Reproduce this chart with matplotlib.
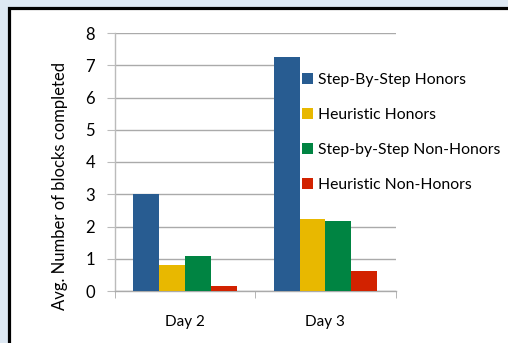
import matplotlib
matplotlib.use('Agg')
import matplotlib.pyplot as plt
from matplotlib.patches import Rectangle
import numpy as np

# data
days = ['Day 2', 'Day 3']
series = ['Step-By-Step Honors', 'Heuristic Honors',
          'Step-by-Step Non-Honors', 'Heuristic Non-Honors']
step_honors = [3.0, 7.27]
heur_honors = [0.8, 2.23]
step_non = [1.1, 2.17]
heur_non = [0.15, 0.62]
colors = ['#285C91', '#E8B800', '#008442', '#D22200']

plt.rcParams['font.family'] = ['Lato', 'DejaVu Sans']

fig = plt.figure(figsize=(5.08, 3.43), dpi=100)
fig.patch.set_facecolor('#DDE8F3')

# white panel with black frame (top and left edges visible)
frame = Rectangle((8.5 / 508, -0.1), 1.2, 1 - 7.5 / 343 + 0.1,
                  transform=fig.transFigure, facecolor='white',
                  edgecolor='black', linewidth=2.3, zorder=-5)
fig.patches.append(frame)

ax = fig.add_axes([114.5 / 508, 1 - 291 / 343, 281.2 / 508, 258 / 343])
ax.set_facecolor('none')
ax.set_zorder(1)

x = np.arange(len(days))
w = 0.184
vals = [step_honors, heur_honors, step_non, heur_non]
for i, (v, c, name) in enumerate(zip(vals, colors, series)):
    ax.bar(x + (i - 1.5) * w, v, width=w, color=c, label=name, zorder=3)

ax.set_xlim(-0.5, 1.5)
ax.set_ylim(0, 8)
ax.set_yticks(range(0, 9))
ax.yaxis.grid(True, color='#AAAAAA', linewidth=1, zorder=0)
ax.set_axisbelow(True)

for s in ['top', 'right']:
    ax.spines[s].set_visible(False)
ax.spines['left'].set_color('#BBBBBB')
ax.spines['bottom'].set_color('#AAAAAA')
ax.spines['left'].set_linewidth(1)
ax.spines['bottom'].set_linewidth(1)

ax.set_xticks(x)
ax.set_xticklabels(days)
ax.set_xticks([-0.5, 0.5, 1.5], minor=True)
ax.tick_params(axis='x', which='major', length=0, pad=17, labelsize=11)
ax.tick_params(axis='x', which='minor', length=5, color='#AAAAAA')
ax.tick_params(axis='y', length=6, color='#BBBBBB', labelsize=12, pad=8)

ax.set_ylabel('Avg. Number of blocks completed', fontsize=12, labelpad=6)
ax.yaxis.set_label_coords(-0.165, 0.407)

leg = ax.legend(loc='upper left', bbox_to_anchor=(293 / 508, 1 - 64 / 343),
                bbox_transform=fig.transFigure, frameon=True, fontsize=11.3,
                handlelength=0.7, handleheight=0.7, handletextpad=0.3,
                labelspacing=1.33, borderpad=0.6, borderaxespad=0)
leg.get_frame().set_facecolor('white')
leg.get_frame().set_edgecolor('none')
leg.get_frame().set_alpha(1)
leg.set_zorder(2)

fig.savefig('out.png', dpi=100, facecolor=fig.get_facecolor())
